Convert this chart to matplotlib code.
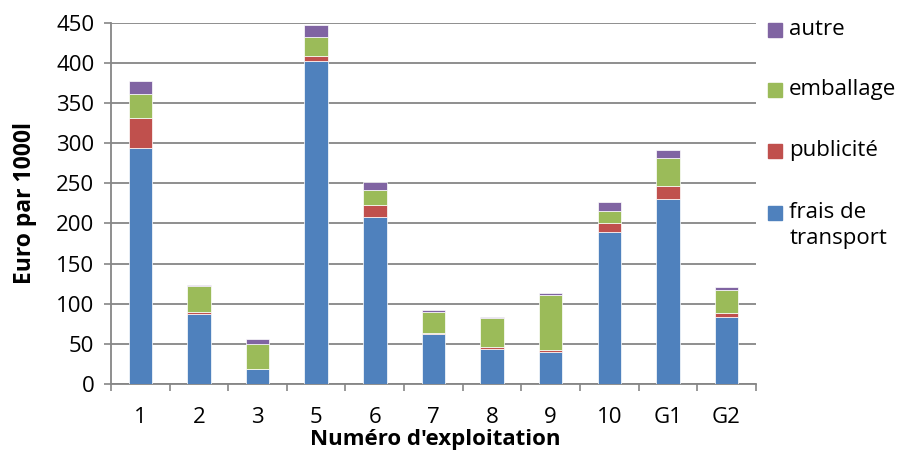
import matplotlib
matplotlib.use("Agg")
import matplotlib.pyplot as plt
from matplotlib.patches import Rectangle
import numpy as np

plt.rcParams['font.family'] = ['Open Sans', 'DejaVu Sans']

categories = ["1", "2", "3", "5", "6", "7", "8", "9", "10", "G1", "G2"]
frais_transport = [294, 87.5, 18, 402, 207.5, 62, 43, 40, 189, 231, 83]
publicite = [38, 2, 0.5, 7, 15.5, 2, 3, 2.5, 12, 16, 5]
emballage = [30, 33, 31, 24, 19, 25, 36, 68, 14.5, 34, 28.5]
autre = [16, 1, 7, 15, 10, 3, 1.5, 3, 11, 11, 4]

series = [
    ("frais de\ntransport", frais_transport, "#4F81BD"),
    ("publicité", publicite, "#C0504D"),
    ("emballage", emballage, "#9BBB59"),
    ("autre", autre, "#8064A2"),
]

grid_col = "#868686"

fig = plt.figure(figsize=(9.02, 4.5), dpi=100)
ax = fig.add_axes([0.123, 0.147, 0.715, 0.802])

x = np.arange(len(categories))
bottom = np.zeros(len(categories))
for label, vals, col in series:
    vals = np.array(vals, dtype=float)
    ax.bar(x, vals, width=0.4, bottom=bottom, color=col,
           edgecolor="#ffffff", linewidth=0.5, zorder=3)
    bottom += vals

ax.set_xlim(-0.5, len(categories) - 0.5)
ax.set_ylim(0, 450)
ax.set_yticks(np.arange(0, 451, 50))
ax.yaxis.grid(True, color=grid_col, linewidth=1.3, zorder=0)
ax.set_axisbelow(True)

ax.set_xticks(x)
ax.set_xticklabels(categories)
ax.set_xticks(np.arange(-0.5, len(categories), 1.0), minor=True)
ax.tick_params(axis="x", which="major", length=0, labelsize=16, pad=17)
ax.tick_params(axis="x", which="minor", length=5, width=1.2, color=grid_col, direction="out")
ax.tick_params(axis="y", length=5, width=1.2, color=grid_col, labelsize=16, pad=7)

for s in ["top", "right"]:
    ax.spines[s].set_visible(False)
for s in ["left", "bottom"]:
    ax.spines[s].set_color(grid_col)
    ax.spines[s].set_linewidth(1.3)

ax.set_ylabel("Euro par 1000l", fontsize=16.5, fontweight="bold")
ax.yaxis.set_label_coords(-0.115, 0.5)
fig.text(0.482, 0.012, "Numéro d'exploitation", fontsize=16, fontweight="bold",
         ha="center", va="baseline")

# legend entries, top to bottom in reverse stacking order
leg_y = [0.933, 0.800, 0.664, 0.527]
for (label, _, col), yy in zip(series[::-1], leg_y):
    fig.patches.append(Rectangle((0.851, yy - 0.0155), 0.0155, 0.031,
                                 transform=fig.transFigure, color=col))
    fig.text(0.875, yy + 0.024, label, fontsize=16, ha="left", va="top",
             linespacing=1.3)

fig.savefig("out.png", dpi=100)
